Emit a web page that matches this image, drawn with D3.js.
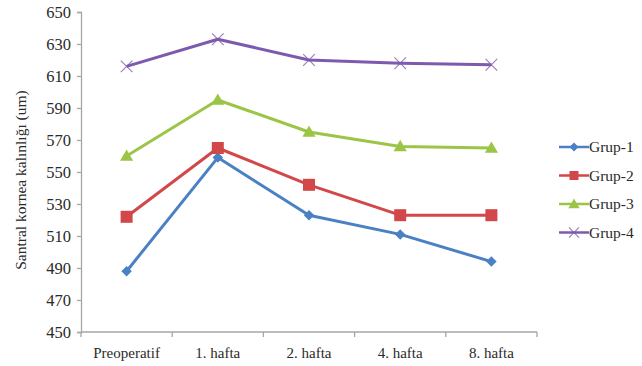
<!DOCTYPE html>
<html>
<head>
<meta charset="utf-8">
<script src="https://cdn.jsdelivr.net/npm/d3@7"></script>
<style>
  html, body { margin: 0; padding: 0; background: #fff; }
  svg { display: block; }
  text { font-family: "Liberation Serif", "DejaVu Serif", serif; fill: #2a2a2a; }
</style>
</head>
<body>
<svg id="chart" width="642" height="366"></svg>
<script>
// Time points of the measurements
const categories = ["Preoperatif", "1. hafta", "2. hafta", "4. hafta", "8. hafta"];

// Central corneal thickness (um) per group
const grup1 = [488, 559, 523, 511, 494];
const grup2 = [522, 565, 542, 523, 523];
const grup3 = [560, 595, 575, 566, 565];
const grup4 = [616, 633, 620, 618, 617];

const seriesNames = ["Grup-1", "Grup-2", "Grup-3", "Grup-4"];
const yTicks = [450, 470, 490, 510, 530, 550, 570, 590, 610, 630, 650];

const seriesValues = [grup1, grup2, grup3, grup4];
const colors = ["#4a80c4", "#d2474a", "#9cc548", "#7d5aad"];
const markers = ["diamond", "square", "triangle", "cross"];

const svg = d3.select("#chart");
const plotLeft = 81, plotRight = 537, plotTop = 12, plotBottom = 332;

const x = d3.scaleBand().domain(categories).range([plotLeft, plotRight]);
const y = d3.scaleLinear().domain([450, 650]).range([plotBottom, plotTop]);

// Y axis
const yAxis = svg.append("g")
  .attr("transform", `translate(${plotLeft},0)`)
  .call(d3.axisLeft(y).tickValues(yTicks).tickSize(4).tickPadding(6).tickFormat(d3.format("d")));
yAxis.select(".domain").attr("stroke", "#a6a6a6").attr("stroke-width", 1.3);
yAxis.selectAll(".tick line").attr("stroke", "#a6a6a6").attr("stroke-width", 1.3);
yAxis.selectAll("text").style("font-size", "16.5px").attr("fill", "#2a2a2a")
  .style("font-family", '"Liberation Serif", serif');

// X axis with ticks between categories
const xAxis = svg.append("g").attr("transform", `translate(0,${plotBottom})`);
xAxis.append("line")
  .attr("x1", plotLeft).attr("x2", plotRight)
  .attr("stroke", "#a6a6a6").attr("stroke-width", 1.3);
const boundaries = categories.map(c => x(c)).concat([x(categories[categories.length - 1]) + x.bandwidth()]);
xAxis.selectAll(".xt").data(boundaries).enter().append("line")
  .attr("x1", d => d).attr("x2", d => d).attr("y1", 0).attr("y2", 5)
  .attr("stroke", "#a6a6a6").attr("stroke-width", 1.3);
xAxis.selectAll(".xl").data(categories).enter().append("text")
  .attr("x", d => x(d) + x.bandwidth() / 2)
  .attr("y", 26)
  .attr("text-anchor", "middle")
  .style("font-size", "15px")
  .text(d => d);

// Y axis title
svg.append("text")
  .attr("transform", `translate(26,${(plotTop + plotBottom) / 2 + 8}) rotate(-90)`)
  .attr("text-anchor", "middle")
  .style("font-size", "15.5px")
  .text("Santral kornea kalınlığı (um)");

function drawMarker(g, type, cx, cy, color, scale) {
  const s = scale || 1;
  if (type === "diamond") {
    g.append("path").attr("d", d3.symbol().type(d3.symbolDiamond2).size(70 * s)())
      .attr("transform", `translate(${cx},${cy})`).attr("fill", color);
  } else if (type === "square") {
    const h = 6 * s;
    g.append("rect").attr("x", cx - h).attr("y", cy - h).attr("width", 2 * h).attr("height", 2 * h)
      .attr("fill", color);
  } else if (type === "triangle") {
    g.append("path").attr("d", d3.symbol().type(d3.symbolTriangle).size(75 * s)())
      .attr("transform", `translate(${cx},${cy + 1})`).attr("fill", color);
  } else if (type === "cross") {
    g.append("path").attr("d", d3.symbol().type(d3.symbolX).size(90 * s)())
      .attr("transform", `translate(${cx},${cy})`).attr("fill", "none")
      .attr("stroke", color).attr("stroke-width", 1.1).attr("stroke-opacity", 0.8);
  }
}

const line = d3.line()
  .x((d, i) => x(categories[i]) + x.bandwidth() / 2)
  .y(d => y(d));

seriesValues.forEach((vals, si) => {
  const g = svg.append("g");
  g.append("path").datum(vals).attr("d", line)
    .attr("fill", "none").attr("stroke", colors[si]).attr("stroke-width", 3)
    .attr("stroke-linejoin", "round");
  vals.forEach((v, i) => {
    drawMarker(g, markers[si], x(categories[i]) + x.bandwidth() / 2, y(v), colors[si], 1);
  });
});

// Legend
const legend = svg.append("g");
seriesNames.forEach((name, i) => {
  const ly = 147 + i * 28.5;
  legend.append("line").attr("x1", 559).attr("x2", 589).attr("y1", ly).attr("y2", ly)
    .attr("stroke", colors[i]).attr("stroke-width", 2.5);
  drawMarker(legend, markers[i], 574, ly, colors[i], 0.75);
  legend.append("text").attr("x", 589).attr("y", ly + 5)
    .style("font-size", "15.5px").text(name);
});
</script>
</body>
</html>
